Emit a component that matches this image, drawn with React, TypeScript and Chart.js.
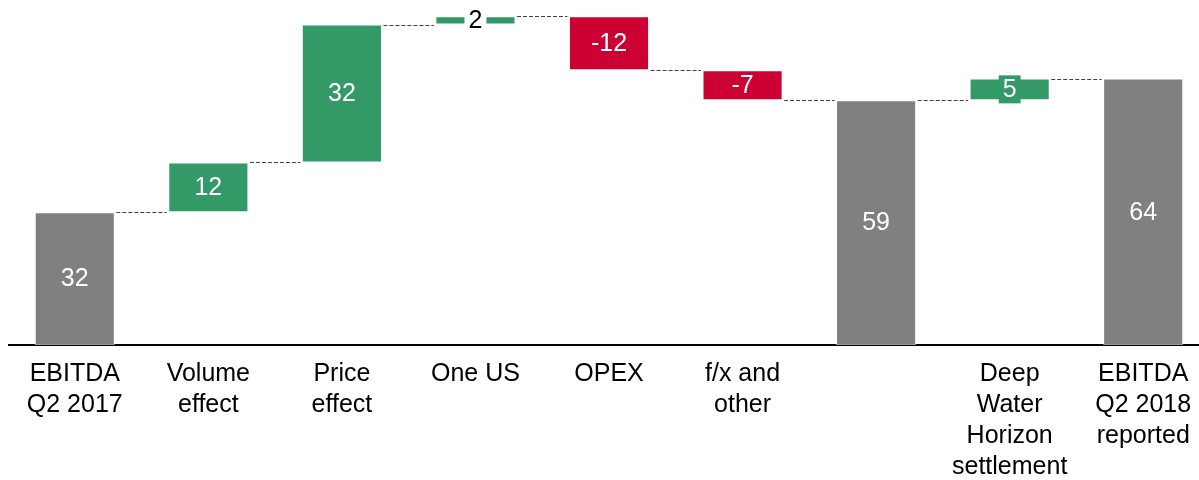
import React, { useEffect, useRef } from "react";
import { Chart, registerables } from "chart.js";

Chart.register(...registerables);

// ---- data ----
const categories: string[][] = [
  ["EBITDA", "Q2 2017"],
  ["Volume", "effect"],
  ["Price", "effect"],
  ["One US"],
  ["OPEX"],
  ["f/x and", "other"],
  [""],
  ["Deep", "Water", "Horizon", "settlement"],
  ["EBITDA", "Q2 2018", "reported"],
];
const stepKinds = ["total", "delta", "delta", "delta", "delta", "delta", "total", "delta", "total"];
const stepValues = [32, 12, 33.2, 2, -13, -7.2, 59, 5.2, 64.2];
const valueLabels = ["32", "12", "32", "2", "-12", "-7", "59", "5", "64"];

// ---- styles ----
const GRAY = "#808080";
const GREEN = "#339966";
const RED = "#CC0033";
const FONT = "'Liberation Sans', Arial, sans-serif";
const labelBoxFill = [null, null, null, "#ffffff", null, null, null, GREEN, null];
const labelTextColor = ["#fff", "#fff", "#fff", "#000", "#fff", "#fff", "#fff", "#fff", "#fff"];

function buildRanges() {
  const ranges: [number, number][] = [];
  const ends: number[] = [];
  let running = 0;
  stepKinds.forEach((k, i) => {
    const v = stepValues[i];
    if (k === "total") {
      ranges.push([0, v]);
      running = v;
    } else {
      ranges.push([running, running + v]);
      running = running + v;
    }
    ends.push(running);
  });
  return { ranges, ends };
}

export default function App() {
  const ref = useRef<HTMLCanvasElement | null>(null);

  useEffect(() => {
    if (!ref.current) return;
    const { ranges, ends } = buildRanges();
    const colors = stepKinds.map((k, i) =>
      k === "total" ? GRAY : stepValues[i] >= 0 ? GREEN : RED
    );

    const overlay = {
      id: "waterfallOverlay",
      afterDatasetsDraw(chart: any) {
        const ctx = chart.ctx as CanvasRenderingContext2D;
        const meta = chart.getDatasetMeta(0);
        const yScale = chart.scales.y;
        // connectors
        ctx.save();
        ctx.strokeStyle = "#404040";
        ctx.lineWidth = 1;
        ctx.setLineDash([4, 2]);
        for (let i = 0; i < meta.data.length - 1; i++) {
          const a = meta.data[i] as any;
          const b = meta.data[i + 1] as any;
          const y = Math.round(yScale.getPixelForValue(ends[i])) + 0.5;
          const x1 = a.x + a.width / 2 + 1.5;
          const x2 = b.x - b.width / 2 - 1.5;
          ctx.beginPath();
          ctx.moveTo(x1, y);
          ctx.lineTo(x2, y);
          ctx.stroke();
        }
        ctx.restore();
        // value labels
        ctx.save();
        ctx.font = `25px ${FONT}`;
        ctx.textAlign = "center";
        ctx.textBaseline = "middle";
        meta.data.forEach((el: any, i: number) => {
          const cx = el.x;
          const cy = (el.y + el.base) / 2;
          const txt = valueLabels[i];
          const fill = labelBoxFill[i];
          if (fill) {
            const w = ctx.measureText(txt).width + 8;
            const h = 28;
            ctx.fillStyle = fill;
            ctx.fillRect(cx - w / 2, cy - h / 2, w, h);
          }
          ctx.fillStyle = labelTextColor[i];
          ctx.fillText(txt, cx, cy + 1);
        });
        ctx.restore();
      },
    };

    const chart = new Chart(ref.current, {
      type: "bar",
      data: {
        labels: categories,
        datasets: [
          {
            data: ranges as any,
            backgroundColor: colors,
            borderColor: "rgba(255,255,255,0.6)",
            borderWidth: 1,
            borderSkipped: false,
            barPercentage: 0.6,
            categoryPercentage: 1,
          },
        ],
      },
      options: {
        animation: false,
        responsive: false,
        maintainAspectRatio: false,
        layout: { padding: { top: 5, left: 0, right: 0, bottom: 0 } },
        plugins: {
          legend: { display: false },
          tooltip: { enabled: false },
        },
        scales: {
          x: {
            grid: { display: false, drawTicks: false },
            border: { display: true, color: "#000", width: 2 },
            ticks: {
              color: "#000",
              padding: 14,
              maxRotation: 0,
              autoSkip: false,
              font: { family: FONT, size: 25, lineHeight: 1.24 },
            },
            afterFit: (scale: any) => {
              scale.height = 135;
            },
          },
          y: {
            display: false,
            min: 0,
            max: 80,
          },
        },
      },
      plugins: [overlay],
    });
    return () => chart.destroy();
  }, []);

  return (
    <div style={{ position: "fixed", left: 8, top: 8, width: 1202, height: 472 }}>
      <canvas ref={ref} width={1202} height={472} style={{ width: 1202, height: 472, display: "block" }} />
    </div>
  );
}
